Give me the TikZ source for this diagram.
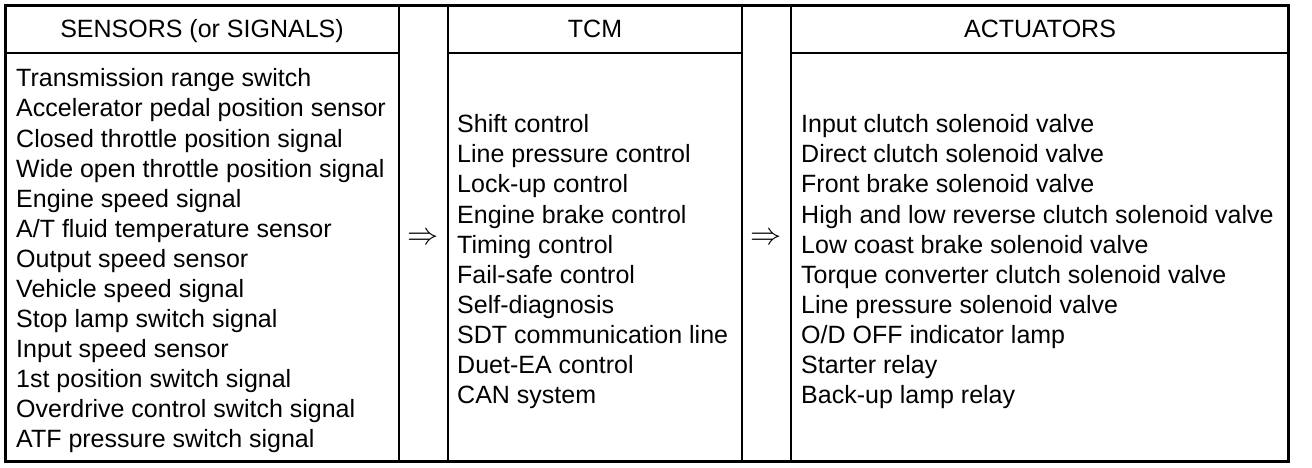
\documentclass[tikz,border=0pt]{standalone}
\usepackage{fontspec}
\setmainfont{Liberation Sans}

\begin{document}
\begin{tikzpicture}[x=1pt, y=-1pt, every node/.style={font=\fontsize{25}{30}\selectfont, inner sep=0pt}]
    \useasboundingbox (0,0) rectangle (1312,468);
    % Frame and rules
    \draw[line width=3pt] (5.5,5.5) rectangle (1288,461.5);
    \foreach \x in {399,448,742,791}
        \draw[line width=1.4pt] (\x,5.5) -- (\x,461.5);
    \draw[line width=1.4pt] (5.5,53) -- (399,53);
    \draw[line width=1.4pt] (448,53) -- (742,53);
    \draw[line width=1.4pt] (791,53) -- (1288,53);
    % Headers
    \node[anchor=base] (HS) at (202,38) {SENSORS (or SIGNALS)};
    \node[anchor=base] (HT) at (595,38) {TCM};
    \node[anchor=base] (HA) at (1040,38) {ACTUATORS};
    % Sensors
    \foreach \txt [count=\i] in {Transmission range switch, Accelerator pedal position sensor,
        Closed throttle position signal, Wide open throttle position signal, Engine speed signal,
        A/T fluid temperature sensor, Output speed sensor, Vehicle speed signal,
        Stop lamp switch signal, Input speed sensor, 1st position switch signal,
        Overdrive control switch signal, ATF pressure switch signal}
        \node[anchor=base west] (S\i) at (16,57+30*\i) {\txt};
    % TCM
    \foreach \txt [count=\i] in {Shift control, Line pressure control, Lock-up control,
        Engine brake control, Timing control, Fail-safe control, Self-diagnosis,
        SDT communication line, Duet-EA control, CAN system}
        \node[anchor=base west] (T\i) at (457,103+30*\i) {\txt};
    % Actuators
    \foreach \txt [count=\i] in {Input clutch solenoid valve, Direct clutch solenoid valve,
        Front brake solenoid valve, High and low reverse clutch solenoid valve,
        Low coast brake solenoid valve, Torque converter clutch solenoid valve,
        Line pressure solenoid valve, O/D OFF indicator lamp, Starter relay,
        Back-up lamp relay}
        \node[anchor=base west] (A\i) at (801,103+30*\i) {\txt};
    % Arrows
    \node (R1) at (423.5,239) {\scalebox{1.25}{$\Rightarrow$}};
    \node (R2) at (766.5,239) {\scalebox{1.25}{$\Rightarrow$}};
\end{tikzpicture}
\end{document}
